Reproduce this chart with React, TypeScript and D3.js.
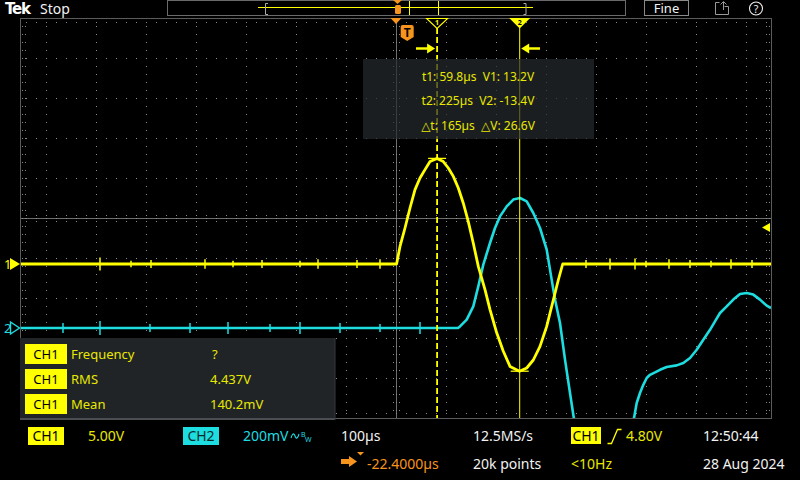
import React from 'react';
import * as d3 from 'd3';

// ---------- scope settings ----------
const TIME_PER_DIV = 100; // µs/div
const H_POSITION = -22.4; // µs at screen centre
const CH1_SCALE = 5; // V/div
const CH2_SCALE = 0.2; // V/div
const CH1_OFFSET_DIV = -1.15;
const CH2_OFFSET_DIV = -2.75;
const TRIGGER_LEVEL = 4.8; // V

// ---------- waveform data (µs, V) ----------
const ch1Time = [-772.4, -21.2, -14.4, -4.4, 5.6, 15.6, 25.6, 35.6, 45.6, 59.6, 72.2, 82.2, 92.2, 102.2, 112.2, 122.2, 132.2, 142.2, 155.6, 165.6, 179, 192.2, 205.6, 224.6, 239, 252.2, 265.6, 279, 292.2, 302.2, 311, 727.6];
const ch1Volts = [0, 0, 2.2, 4.5, 7.0, 9.3, 10.75, 11.8, 12.8, 13.2, 12.8, 12.0, 10.95, 9.5, 7.6, 5.3, 2.6, -0.3, -3.2, -5.7, -8.6, -10.9, -12.8, -13.4, -13.0, -12.0, -10.3, -7.8, -4.5, -2.0, 0, 0];

const ch2Time = [-772.4, 101.6, 105.6, 119, 132.2, 142.2, 152.2, 165.6, 175.6, 185.6, 199, 212.2, 225.6, 239, 252.2, 265.6, 279, 285.6, 295.6, 305.6, 315.6, 325.6, 332.2, 345, 390, 440, 454.2, 459, 465.6, 472.2, 479, 485.6, 495.6, 505.6, 519, 539, 552.2, 565.6, 579, 592.2, 605.6, 615.6, 625.6, 639, 652.2, 665.6, 679, 692.2, 705.6, 719, 727.6];
const ch2Volts = [0, 0, 0.008, 0.042, 0.108, 0.208, 0.317, 0.425, 0.5, 0.558, 0.608, 0.642, 0.65, 0.633, 0.575, 0.5, 0.392, 0.292, 0.142, 0.025, -0.158, -0.325, -0.434, -0.62, -0.85, -0.62, -0.442, -0.375, -0.325, -0.284, -0.25, -0.234, -0.222, -0.209, -0.195, -0.187, -0.175, -0.15, -0.109, -0.059, -0.009, 0.033, 0.075, 0.108, 0.142, 0.17, 0.175, 0.167, 0.142, 0.112, 0.1];

// noise glitches on the flat parts
const ch1SpikeTime = [-614.4, -552.4, -512.4, -404.4, -348.4, -290.4, -214.4, -178.4, -100.4, -54.4, 357.6, 405.6, 455.6, 477.6, 523.6, 565.6, 607.6, 647.6, 689.6];
const ch1SpikeAmp = [0.8, 0.4, 0.5, 0.6, 0.4, 0.5, 0.4, 0.6, 0.5, 0.6, 0.5, 0.7, 0.7, 0.4, 0.6, 0.5, 0.4, 0.6, 0.5];
const ch2SpikeTime = [-688.4, -614.4, -514.4, -434.4, -358.4, -274.4, -214.4, -134.4, -54.4, 25.6];
const ch2SpikeAmp = [0.025, 0.035, 0.02, 0.025, 0.03, 0.02, 0.03, 0.025, 0.02, 0.03];

// cursors
const cursorTimes = [59.8, 225];
const cursorVolts = [13.2, -13.4];
const cursorLines = ['t1: 59.8µs  V1: 13.2V', 't2: 225µs  V2: -13.4V', '△t: 165µs  △V: 26.6V'];

// measurements
const measSource = ['CH1', 'CH1', 'CH1'];
const measLabels = ['Frequency', 'RMS', 'Mean'];
const measValues = ['?', '4.437V', '140.2mV'];

// ---------- styling ----------
const FONT = "'Noto Sans', 'DejaVu Sans', sans-serif";
const YEL = '#ffff00';
const YEL_TXT = '#e8e800';
const CYAN = '#1ddde0';
const ORANGE = '#f7941d';
const GRID = '#8a8a8a';
const FRAME = '#5c5c5c';

const PL = 21, PR = 771, PT = 18, PB = 418;

export default function App() {
  const x = d3.scaleLinear()
    .domain([H_POSITION - 7.5 * TIME_PER_DIV, H_POSITION + 7.5 * TIME_PER_DIV])
    .range([PL, PR]);
  const xDiv = d3.scaleLinear().domain([-7.5, 7.5]).range([PL, PR]);
  const yDiv = d3.scaleLinear().domain([-5, 5]).range([PB, PT]);
  const y1 = (v: number) => yDiv(v / CH1_SCALE + CH1_OFFSET_DIV);
  const y2 = (v: number) => yDiv(v / CH2_SCALE + CH2_OFFSET_DIV);

  const line1 = d3.line<number>().x((_, i) => x(ch1Time[i])).y((d) => y1(d));
  const line2 = d3.line<number>().x((_, i) => x(ch2Time[i])).y((d) => y2(d));

  const cx = xDiv(0);
  const cy = yDiv(0);
  const vLines = d3.range(-7, 8).filter((k) => k !== 0);
  const hLines = d3.range(-4, 5).filter((k) => k !== 0);
  const minorX = d3.range(PL + 5, PR, 10);
  const minorY = d3.range(PT + 8, PB, 8);

  const xc1 = x(cursorTimes[0]);
  const xc2 = x(cursorTimes[1]);
  const xTrig = x(0);
  const yTrig = y1(TRIGGER_LEVEL);

  return (
    <svg width={800} height={480} style={{ position: 'absolute', left: 0, top: 0, background: '#000' }} fontFamily={FONT}>
      <defs>
        <clipPath id="plot"><rect x={PL} y={PT} width={PR - PL} height={PB - PT} /></clipPath>
      </defs>
      <rect width={800} height={480} fill="#000" />

      {/* ---------- graticule ---------- */}
      <g shapeRendering="crispEdges">
        {vLines.map((k) => (
          <line key={'v' + k} x1={Math.round(xDiv(k)) + 0.5} x2={Math.round(xDiv(k)) + 0.5} y1={PT + 8} y2={PB} stroke={GRID} strokeDasharray="1 7" />
        ))}
        {hLines.map((k) => (
          <line key={'h' + k} y1={Math.round(yDiv(k)) + 0.5} y2={Math.round(yDiv(k)) + 0.5} x1={PL + 5} x2={PR} stroke={GRID} strokeDasharray="1 9" />
        ))}
        <line x1={Math.round(cx) + 0.5} x2={Math.round(cx) + 0.5} y1={PT} y2={PB} stroke="#6e6e6e" />
        <line y1={Math.round(cy) + 0.5} y2={Math.round(cy) + 0.5} x1={PL} x2={PR} stroke="#6e6e6e" />
        {minorX.map((mx) => (
          <g key={'mx' + mx}>
            <line x1={mx + 0.5} x2={mx + 0.5} y1={cy - 3} y2={cy + 4} stroke={GRID} strokeDasharray="1 2" />
            <rect x={mx} y={PT + 4} width={1} height={1} fill={GRID} />
            <rect x={mx} y={PB - 5} width={1} height={1} fill={GRID} />
          </g>
        ))}
        {minorY.map((my) => (
          <g key={'my' + my}>
            <line y1={my + 0.5} y2={my + 0.5} x1={cx - 3} x2={cx + 4} stroke={GRID} strokeDasharray="1 2" />
            <rect x={PL + 1} y={my} width={1} height={1} fill={GRID} />
            <rect x={PL + 4} y={my} width={1} height={1} fill={GRID} />
            <rect x={PR - 5} y={my} width={1} height={1} fill={GRID} />
            <rect x={PR - 2} y={my} width={1} height={1} fill={GRID} />
          </g>
        ))}
        <rect x={PL - 0.5} y={PT + 0.5} width={PR - PL + 1} height={PB - PT} fill="none" stroke={FRAME} />
      </g>

      {/* ---------- traces ---------- */}
      <g clipPath="url(#plot)">
        <path d={line2(ch2Volts) || ''} fill="none" stroke={CYAN} strokeWidth={2.6} strokeLinejoin="round" />
        {ch2SpikeTime.map((t, i) => (
          <line key={'s2' + i} x1={x(t)} x2={x(t)} y1={y2(-ch2SpikeAmp[i])} y2={y2(ch2SpikeAmp[i])} stroke={CYAN} strokeWidth={1.5} />
        ))}
        <path d={line1(ch1Volts) || ''} fill="none" stroke={YEL} strokeWidth={2.8} strokeLinejoin="round" />
        {ch1SpikeTime.map((t, i) => (
          <line key={'s1' + i} x1={x(t)} x2={x(t)} y1={y1(-ch1SpikeAmp[i])} y2={y1(ch1SpikeAmp[i])} stroke={YEL} strokeWidth={1.5} />
        ))}
        {/* cursor level marks */}
        {cursorTimes.map((t, i) => (
          <line key={'cl' + i} x1={x(t) - 9} x2={x(t) + 9} y1={y1(cursorVolts[i])} y2={y1(cursorVolts[i])} stroke={YEL} strokeWidth={1.3} />
        ))}
      </g>

      {/* ---------- cursors ---------- */}
      <line x1={xc1} x2={xc1} y1={PT + 10} y2={PB} stroke={YEL} strokeWidth={1.8} strokeDasharray="6 3" />
      <line x1={xc2} x2={xc2} y1={PT + 10} y2={PB} stroke={YEL} strokeWidth={1} />
      <path d={`M${xc1 - 10.5},${PT + 0.5} L${xc1 + 10.5},${PT + 0.5} L${xc1},${PT + 10.5} Z`} fill="#000" stroke={YEL} strokeWidth={1.1} />
      <text x={xc1} y={PT + 7} fontSize={7} fill={YEL} textAnchor="middle" fontWeight="bold">1</text>
      <path d={`M${xc2 - 10.5},${PT} L${xc2 + 10.5},${PT} L${xc2},${PT + 10.5} Z`} fill={YEL} />
      <text x={xc2} y={PT + 7} fontSize={7} fill="#000" textAnchor="middle" fontWeight="bold">2</text>
      {/* arrows */}
      <line x1={416} x2={429} y1={48.5} y2={48.5} stroke={YEL} strokeWidth={2.5} />
      <path d={`M${xc1 - 2},48.5 L${xc1 - 10},43.5 L${xc1 - 10},53.5 Z`} fill={YEL} />
      <line x1={527} x2={540} y1={48.5} y2={48.5} stroke={YEL} strokeWidth={2.5} />
      <path d={`M${xc2 + 1.5},48.5 L${xc2 + 9.5},43.5 L${xc2 + 9.5},53.5 Z`} fill={YEL} />

      {/* cursor readout box */}
      <rect x={363} y={59} width={231} height={80} fill="#262a2d" opacity={0.72} />
      {cursorLines.map((s, i) => (
        <text key={'cr' + i} x={478} y={80.5 + i * 24.5} fontSize={12} fill={YEL_TXT} textAnchor="middle" xmlSpace="preserve">{s}</text>
      ))}

      {/* trigger markers */}
      <path d={`M${cx - 5.5},${PT} L${cx + 5.5},${PT} L${cx},${PT + 6} Z`} fill={ORANGE} />
      <path d={`M${xTrig - 6.5},27 Q${xTrig - 6.5},25 ${xTrig - 4.5},25 L${xTrig + 4.5},25 Q${xTrig + 6.5},25 ${xTrig + 6.5},27 L${xTrig + 6.5},37 L${xTrig},41 L${xTrig - 6.5},37 Z`} fill={ORANGE} />
      <text x={xTrig} y={37} fontSize={12} fontWeight="bold" fill="#000" textAnchor="middle">T</text>
      <path d={`M${PR - 9},${yTrig + 2} L${PR - 1},${yTrig - 2.5} L${PR - 1},${yTrig + 6.5} Z`} fill={YEL} />

      {/* channel ground markers */}
      <text x={4} y={y1(0) + 5} fontSize={13} fill={YEL}>1</text>
      <path d={`M10,${y1(0) - 6} L20,${y1(0)} L10,${y1(0) + 6} Z`} fill={YEL} />
      <text x={4} y={y2(0) + 5} fontSize={13} fill={CYAN}>2</text>
      <path d={`M10.5,${y2(0) - 6} L19.5,${y2(0)} L10.5,${y2(0) + 6} Z`} fill="none" stroke={CYAN} strokeWidth={1.4} />

      {/* ---------- measurement panel ---------- */}
      <rect x={20} y={338} width={315} height={81} fill="#202427" />
      <line x1={20} x2={335} y1={419} y2={419} stroke="#4a4e52" strokeWidth={2} />
      <line x1={335} x2={335} y1={338} y2={420} stroke="#34383b" strokeWidth={1} />
      {measLabels.map((lab, i) => (
        <g key={'m' + i}>
          <rect x={25} y={344 + i * 25} width={42} height={20} fill={YEL} />
          <text x={46} y={359 + i * 25} fontSize={13} fill="#000" textAnchor="middle">{measSource[i]}</text>
          <text x={71} y={359 + i * 25} fontSize={13} fill={YEL_TXT}>{lab}</text>
          <text x={i === 0 ? 212 : 210} y={359 + i * 25} fontSize={13} fill={YEL_TXT}>{measValues[i]}</text>
        </g>
      ))}

      {/* ---------- top bar ---------- */}
      <text x={5} y={14} fontSize={15} fontWeight="bold" fill="#fff" fontFamily="'DejaVu Sans', sans-serif" letterSpacing={-1.2}>Tek</text>
      <text x={40} y={14} fontSize={14} fill="#f2f2f2">Stop</text>
      <rect x={167.5} y={0.5} width={458} height={15} fill="none" stroke="#6a6a6a" />
      <line x1={258} x2={533} y1={7.5} y2={7.5} stroke={YEL} strokeWidth={1} />
      <path d="M268,3.5 L265.5,3.5 L265.5,14.5 L268,14.5" fill="none" stroke="#aaa" />
      <path d="M523.5,3.5 L526,3.5 L526,14.5 L523.5,14.5" fill="none" stroke="#aaa" />
      <line x1={409.5} x2={409.5} y1={1} y2={15} stroke={YEL} />
      <line x1={438.5} x2={438.5} y1={1} y2={15} stroke={YEL} />
      <path d="M393,0 L402,0 L397.5,4 Z" fill={ORANGE} />
      <rect x={395} y={5} width={6} height={9} rx={1.5} fill={ORANGE} />
      <rect x={644.5} y={0.5} width={44} height={15} fill="none" stroke="#8a8a8a" />
      <text x={666.5} y={13} fontSize={13} fill="#f2f2f2" textAnchor="middle">Fine</text>
      <path d="M724.5,6.5 L728.5,6.5 L728.5,14.5 L715.5,14.5 L715.5,2.5 L719.5,2.5" fill="none" stroke="#9a9a9a" />
      <path d="M723.5,10 L723.5,2 M720.5,4.5 L723.5,1.5 L726.5,4.5" fill="none" stroke="#9a9a9a" />
      <circle cx={756} cy={8.5} r={6.5} fill="none" stroke="#f2f2f2" strokeWidth={1.1} />
      <text x={756} y={12.5} fontSize={10.5} fill="#f2f2f2" textAnchor="middle">?</text>

      {/* ---------- bottom bar ---------- */}
      <rect x={28} y={427} width={36} height={18} fill={YEL} />
      <text x={46} y={441} fontSize={14} fill="#000" textAnchor="middle">CH1</text>
      <text x={88} y={441} fontSize={14} fill={YEL_TXT}>5.00V</text>
      <rect x={183} y={427} width={36} height={18} fill={CYAN} />
      <text x={201} y={441} fontSize={14} fill="#0a2a2a" textAnchor="middle">CH2</text>
      <text x={243} y={441} fontSize={14} fill={CYAN}>200mV</text>
      <path d="M291,438 Q293,431 295,436 Q297,441 299,434" fill="none" stroke={CYAN} strokeWidth={1.1} />
      <text x={301} y={437} fontSize={7} fill={CYAN}>B</text>
      <text x={305} y={442} fontSize={7} fill={CYAN}>W</text>
      <text x={341} y={441} fontSize={14} fill="#f2f2f2">100µs</text>
      <rect x={341} y={459} width={9} height={5} fill={ORANGE} />
      <path d="M349,456 L357,461.5 L349,467 Z" fill={ORANGE} />
      <path d="M357,452 L364,452 L360.5,455.5 Z" fill={ORANGE} />
      <text x={367} y={469} fontSize={14} fill={ORANGE}>-22.4000µs</text>

      <text x={473} y={441} fontSize={14} fill="#f2f2f2">12.5MS/s</text>
      <text x={473} y={469} fontSize={14} fill="#f2f2f2">20k points</text>
      <rect x={571} y={427} width={30} height={17} fill={YEL} />
      <text x={586} y={441} fontSize={14} fill="#000" textAnchor="middle">CH1</text>
      <path d="M607.5,443.5 L611.5,443.5 L617.5,429.5 L621.5,429.5" fill="none" stroke={YEL} strokeWidth={1.3} />
      <text x={626} y={441} fontSize={14} fill={YEL_TXT}>4.80V</text>
      <text x={571} y={469} fontSize={14} fill={YEL_TXT}>&lt;10Hz</text>
      <text x={703} y={441} fontSize={14} fill="#f2f2f2">12:50:44</text>
      <text x={703} y={469} fontSize={14} fill="#f2f2f2">28 Aug 2024</text>
    </svg>
  );
}
